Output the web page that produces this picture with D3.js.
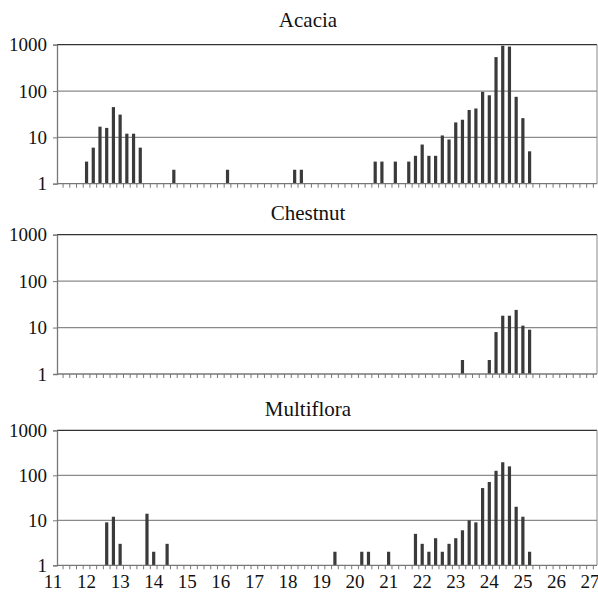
<!DOCTYPE html>
<html>
<head>
<meta charset="utf-8">
<script src="https://cdn.jsdelivr.net/npm/d3@7"></script>
<style>
  html, body { margin: 0; padding: 0; background: #fff; }
</style>
</head>
<body>
<svg id="chart" width="598" height="592"></svg>
<script>
const FONT = 'Liberation Serif';

// bins are in steps of 0.2, counts on a log axis
const acaciaBins = [12.0, 12.2, 12.4, 12.6, 12.8, 13.0, 13.2, 13.4, 13.6, 14.6, 16.2, 18.2, 18.4,
  20.6, 20.8, 21.2, 21.6, 21.8, 22.0, 22.2, 22.4, 22.6, 22.8, 23.0, 23.2, 23.4, 23.6,
  23.8, 24.0, 24.2, 24.4, 24.6, 24.8, 25.0, 25.2];
const acaciaCounts = [3, 6, 17, 16, 45, 31, 12, 12, 6, 2, 2, 2, 2,
  3, 3, 3, 3, 4, 7, 4, 4, 11, 9, 21, 24, 39, 42,
  96, 81, 540, 950, 910, 75, 26, 5];

const chestnutBins = [23.2, 24.0, 24.2, 24.4, 24.6, 24.8, 25.0, 25.2];
const chestnutCounts = [2, 2, 8, 18, 18, 24, 11, 9];

const multifloraBins = [12.6, 12.8, 13.0, 13.8, 14.0, 14.4, 19.4, 20.2, 20.4, 21.0,
  21.8, 22.0, 22.2, 22.4, 22.6, 22.8, 23.0, 23.2, 23.4, 23.6,
  23.8, 24.0, 24.2, 24.4, 24.6, 24.8, 25.0, 25.2];
const multifloraCounts = [9, 12, 3, 14, 2, 3, 2, 2, 2, 2,
  5, 3, 2, 4, 2, 3, 4, 6, 10, 9,
  52, 71, 126, 195, 158, 20, 12, 2];

const yTicks = [1, 10, 100, 1000];
const xLabels = [11, 12, 13, 14, 15, 16, 17, 18, 19, 20, 21, 22, 23, 24, 25, 26, 27];

const panels = [
  { title: 'Acacia', bins: acaciaBins, counts: acaciaCounts, top: 44.7, bottom: 183.7, titleY: 27 },
  { title: 'Chestnut', bins: chestnutBins, counts: chestnutCounts, top: 234.7, bottom: 374, titleY: 220 },
  { title: 'Multiflora', bins: multifloraBins, counts: multifloraCounts, top: 430.3, bottom: 565.3, titleY: 416 },
];

const left = 57, right = 597;
const svg = d3.select('#chart');
const x = d3.scaleLinear().domain([11, 27]).range([53, 590]);

const minor = d3.range(11.1, 27.2, 0.2).filter(v => x(v) >= left - 0.5 && x(v) <= right + 0.5);

panels.forEach((p, i) => {
  const y = d3.scaleLog().domain([1, 1000]).range([p.bottom, p.top]);
  const g = svg.append('g');

  g.append('text')
    .attr('x', 308).attr('y', p.titleY)
    .attr('text-anchor', 'middle')
    .attr('font-family', FONT)
    .attr('font-size', 21)
    .attr('fill', '#111')
    .text(p.title);

  // gridlines at 10 and 100
  g.selectAll('line.grid')
    .data([10, 100])
    .join('line')
    .attr('class', 'grid')
    .attr('x1', left).attr('x2', right)
    .attr('y1', d => y(d)).attr('y2', d => y(d))
    .attr('stroke', '#8a8a8a').attr('stroke-width', 1.3);

  // top and right border
  g.append('line')
    .attr('x1', left).attr('x2', right)
    .attr('y1', y(1000)).attr('y2', y(1000))
    .attr('stroke', '#333').attr('stroke-width', 1.3);
  g.append('line')
    .attr('x1', right).attr('x2', right)
    .attr('y1', y(1000)).attr('y2', y(1))
    .attr('stroke', '#8a8a8a').attr('stroke-width', 1);

  // bars
  g.selectAll('rect.bar')
    .data(p.bins.map((b, j) => ({ b, c: p.counts[j] })))
    .join('rect')
    .attr('class', 'bar')
    .attr('x', d => x(d.b) - 1.6)
    .attr('width', 3.2)
    .attr('y', d => y(d.c))
    .attr('height', d => y(1) - y(d.c))
    .attr('fill', '#3a3a3a');

  // y axis
  const yAxis = d3.axisLeft(y).tickValues(yTicks).tickFormat(d3.format('d')).tickSize(4).tickPadding(6);
  const ga = g.append('g').attr('transform', `translate(${left},0)`).call(yAxis);
  ga.attr('font-family', FONT).attr('font-size', 19);
  ga.select('.domain').attr('stroke', '#777').attr('stroke-width', 1.3);
  ga.selectAll('.tick line').attr('stroke', '#777');
  ga.selectAll('.tick text').attr('fill', '#111');

  // x axis baseline with minor ticks
  g.append('line')
    .attr('x1', left).attr('x2', right)
    .attr('y1', y(1)).attr('y2', y(1))
    .attr('stroke', '#777').attr('stroke-width', 1.3);
  g.selectAll('line.minor')
    .data(minor)
    .join('line')
    .attr('class', 'minor')
    .attr('x1', d => x(d)).attr('x2', d => x(d))
    .attr('y1', y(1)).attr('y2', y(1) + 4)
    .attr('stroke', '#777');

  if (i === panels.length - 1) {
    g.selectAll('text.xl')
      .data(xLabels)
      .join('text')
      .attr('class', 'xl')
      .attr('x', d => x(d))
      .attr('y', 588)
      .attr('text-anchor', 'middle')
      .attr('font-family', FONT)
      .attr('font-size', 19)
      .attr('fill', '#111')
      .text(d => d);
  }
});
</script>
</body>
</html>
